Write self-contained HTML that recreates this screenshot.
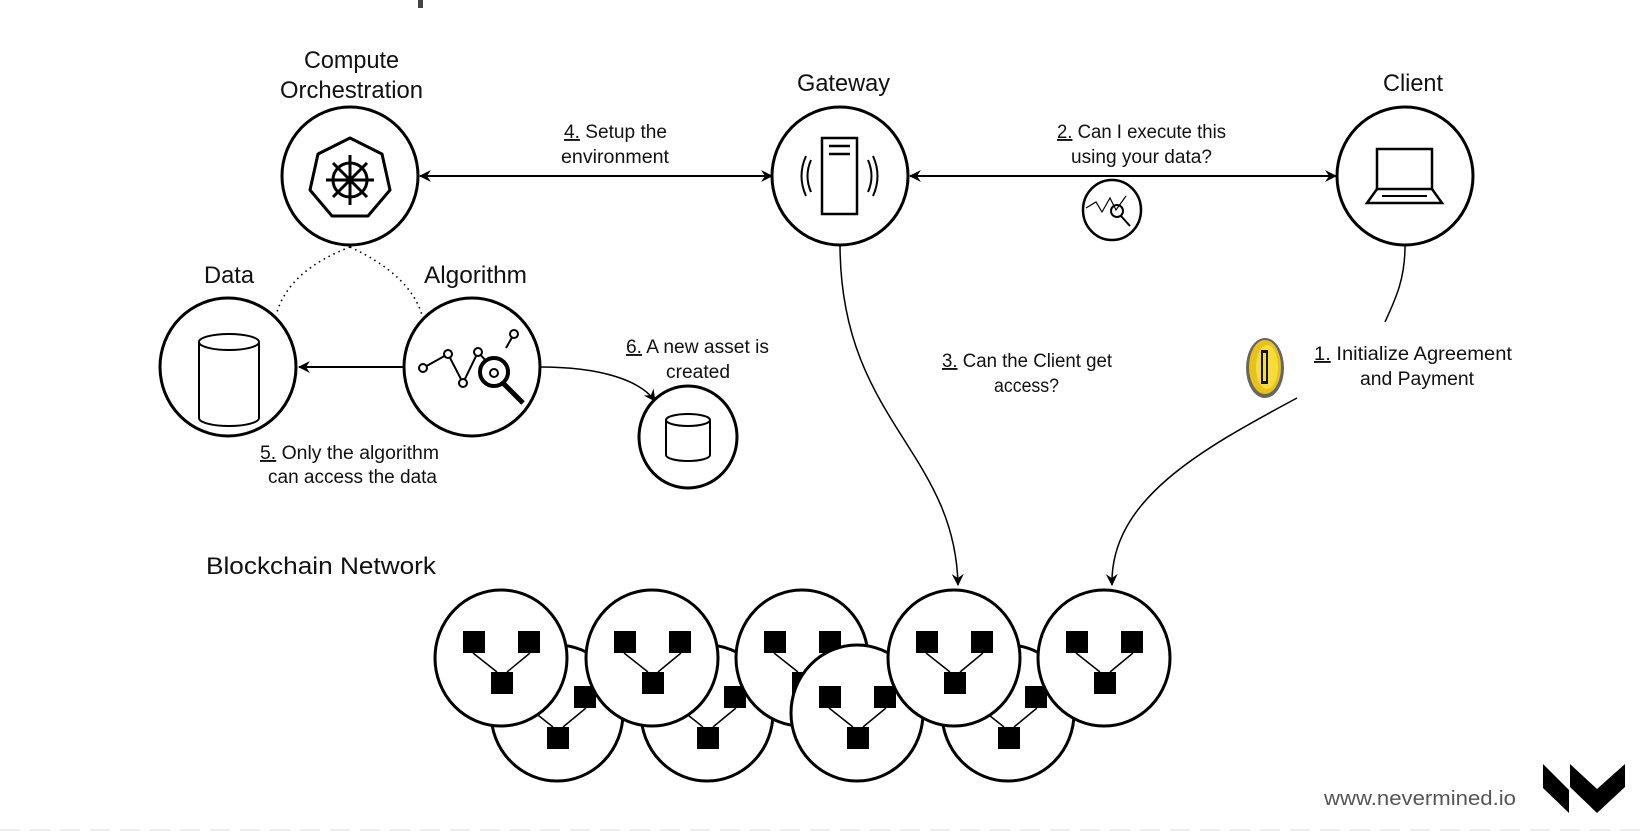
<!DOCTYPE html>
<html><head><meta charset="utf-8"><style>
html,body{margin:0;padding:0;background:#fff;}
svg{display:block;}
text{font-family:"Liberation Sans",sans-serif;fill:#111;}
.h{font-size:24px;}
.l{font-size:19px;}
</style></head><body>
<svg width="1641" height="833" viewBox="0 0 1641 833" xmlns="http://www.w3.org/2000/svg">
<defs>
<marker id="ar" viewBox="0 0 12 12" refX="11" refY="6" markerWidth="12" markerHeight="12" orient="auto-start-reverse" markerUnits="userSpaceOnUse">
<path d="M0,0 L12,6 L0,12 L4,6 z" fill="#000"/>
</marker>
<g id="node">
<ellipse cx="0" cy="0" rx="66" ry="68" fill="#fff" stroke="#000" stroke-width="3"/>
<rect x="-38" y="-27" width="22" height="22" fill="#000"/>
<rect x="17" y="-27" width="22" height="22" fill="#000"/>
<rect x="-10" y="14" width="22" height="22" fill="#000"/>
<path d="M-28,-5 L-4,14 M29,-5 L6,14" stroke="#000" stroke-width="1.5" fill="none"/>
</g>
<g id="db">
<path d="M-30,-38 L-30,38 A30,8 0 0 0 30,38 L30,-38" fill="none" stroke="#000" stroke-width="2"/>
<ellipse cx="0" cy="-38" rx="30" ry="8" fill="none" stroke="#000" stroke-width="2"/>
</g>
</defs>

<rect x="418" y="0" width="5" height="8" fill="#444"/>

<line x1="420" y1="176" x2="772" y2="176" stroke="#000" stroke-width="2" marker-start="url(#ar)" marker-end="url(#ar)"/>
<line x1="910" y1="176" x2="1336" y2="176" stroke="#000" stroke-width="2" marker-start="url(#ar)" marker-end="url(#ar)"/>
<line x1="404" y1="367" x2="299" y2="367" stroke="#000" stroke-width="2" marker-end="url(#ar)"/>
<path d="M540,367 C600,367 640,380 655,401" fill="none" stroke="#000" stroke-width="1.5" marker-end="url(#ar)"/>
<path d="M840,244 C840,420 955,450 958,585" fill="none" stroke="#000" stroke-width="1.5" marker-end="url(#ar)"/>
<path d="M1405,246 C1405,280 1395,300 1385,322" fill="none" stroke="#000" stroke-width="1.5"/>
<path d="M1297,398 C1200,450 1110,500 1112,585" fill="none" stroke="#000" stroke-width="1.5" marker-end="url(#ar)"/>
<path d="M350,247 Q290,270 277,312" fill="none" stroke="#000" stroke-width="1.6" stroke-dasharray="1.5,4"/>
<path d="M350,247 Q410,275 422,315" fill="none" stroke="#000" stroke-width="1.6" stroke-dasharray="1.5,4"/>

<ellipse cx="350" cy="176" rx="68" ry="69" fill="#fff" stroke="#000" stroke-width="3"/>
<path d="M350,138 L382,154 L390,190 L368,216 L332,216 L310,190 L318,154 Z" fill="none" stroke="#000" stroke-width="3" stroke-linejoin="round"/>
<g stroke="#000" stroke-width="3" fill="none">
<circle cx="350" cy="180" r="17"/>
<line x1="350" y1="155" x2="350" y2="205"/>
<line x1="326" y1="180" x2="374" y2="180"/>
<line x1="333" y1="163" x2="367" y2="197"/>
<line x1="367" y1="163" x2="333" y2="197"/>
</g>
<circle cx="350" cy="180" r="4" fill="#000"/>

<ellipse cx="840" cy="176" rx="68" ry="69" fill="#fff" stroke="#000" stroke-width="3"/>
<rect x="822" y="138" width="35" height="76" fill="none" stroke="#000" stroke-width="2.5"/>
<line x1="829" y1="146" x2="850" y2="146" stroke="#000" stroke-width="2.5"/>
<line x1="829" y1="154" x2="850" y2="154" stroke="#000" stroke-width="2.5"/>
<path d="M811,160 Q804,176 811,192 M806,156 Q797,176 806,196 M868,160 Q875,176 868,192 M873,156 Q882,176 873,196" fill="none" stroke="#000" stroke-width="2"/>

<ellipse cx="1405" cy="176" rx="68" ry="69" fill="#fff" stroke="#000" stroke-width="3"/>
<rect x="1377" y="149" width="55" height="40" fill="none" stroke="#000" stroke-width="2.5"/>
<path d="M1377,189 L1367,203 L1442,203 L1432,189" fill="none" stroke="#000" stroke-width="2.5"/>
<line x1="1382" y1="196" x2="1427" y2="196" stroke="#000" stroke-width="2"/>

<ellipse cx="1112" cy="210" rx="29" ry="30" fill="#fff" stroke="#000" stroke-width="2.5"/>
<path d="M1086,208 L1096,202 L1102,212 L1110,198 L1116,210 L1126,196" fill="none" stroke="#000" stroke-width="1.2"/>
<circle cx="1117" cy="211" r="6" fill="none" stroke="#000" stroke-width="2"/>
<line x1="1121" y1="216" x2="1130" y2="226" stroke="#000" stroke-width="2"/>

<ellipse cx="228" cy="367" rx="68" ry="69" fill="#fff" stroke="#000" stroke-width="3"/>
<use href="#db" x="229" y="380"/>

<ellipse cx="472" cy="367" rx="68" ry="69" fill="#fff" stroke="#000" stroke-width="3"/>
<path d="M423,368 L448,354 L463,383 L478,352 L494,370 M506,348 L514,334" fill="none" stroke="#000" stroke-width="2"/>
<g fill="#fff" stroke="#000" stroke-width="2">
<circle cx="423" cy="368" r="4"/><circle cx="448" cy="354" r="4"/><circle cx="463" cy="383" r="4"/><circle cx="478" cy="352" r="4"/><circle cx="514" cy="334" r="4"/>
</g>
<circle cx="494" cy="372" r="14" fill="#fff" stroke="#000" stroke-width="4"/>
<circle cx="494" cy="373" r="4" fill="none" stroke="#000" stroke-width="2"/>
<line x1="503" y1="383" x2="523" y2="403" stroke="#000" stroke-width="5"/>

<ellipse cx="688" cy="437" rx="49" ry="51" fill="#fff" stroke="#000" stroke-width="3"/>
<path d="M666,420 L666,455 A22,6 0 0 0 710,455 L710,420" fill="none" stroke="#000" stroke-width="2"/>
<ellipse cx="688" cy="420" rx="22" ry="6" fill="none" stroke="#000" stroke-width="2"/>

<g>
<ellipse cx="1265" cy="368" rx="19" ry="30" fill="#666"/>
<ellipse cx="1265" cy="367" rx="16" ry="27" fill="#e8c21a"/>
<ellipse cx="1267" cy="367" rx="11" ry="22" fill="#f6dc3a"/>
<rect x="1261" y="350" width="7" height="34" fill="#111"/>
<rect x="1263" y="353" width="3" height="28" fill="#f6dc3a"/>
</g>

<use href="#node" x="557" y="713"/>
<use href="#node" x="707" y="713"/>
<use href="#node" x="1008" y="713"/>
<use href="#node" x="501" y="658"/>
<use href="#node" x="652" y="658"/>
<use href="#node" x="802" y="658"/>
<use href="#node" x="857" y="713"/>
<use href="#node" x="954" y="658"/>
<use href="#node" x="1104" y="658"/>

<text class="h" x="304" y="68" textLength="95" lengthAdjust="spacingAndGlyphs">Compute</text>
<text class="h" x="280" y="98" textLength="143" lengthAdjust="spacingAndGlyphs">Orchestration</text>
<text class="h" x="797" y="91" textLength="93" lengthAdjust="spacingAndGlyphs">Gateway</text>
<text class="h" x="1383" y="91" textLength="60" lengthAdjust="spacingAndGlyphs">Client</text>
<text class="h" x="204" y="283" textLength="50" lengthAdjust="spacingAndGlyphs">Data</text>
<text class="h" x="424" y="283" textLength="103" lengthAdjust="spacingAndGlyphs">Algorithm</text>
<text class="h" x="206" y="574" textLength="230" lengthAdjust="spacingAndGlyphs">Blockchain Network</text>

<text class="l" x="564" y="138" textLength="103" lengthAdjust="spacingAndGlyphs"><tspan text-decoration="underline">4.</tspan> Setup the</text>
<text class="l" x="561" y="163" textLength="108" lengthAdjust="spacingAndGlyphs">environment</text>
<text class="l" x="1057" y="138" textLength="169" lengthAdjust="spacingAndGlyphs"><tspan text-decoration="underline">2.</tspan> Can I execute this</text>
<text class="l" x="1071" y="163" textLength="141" lengthAdjust="spacingAndGlyphs">using your data?</text>
<text class="l" x="942" y="367" textLength="170" lengthAdjust="spacingAndGlyphs"><tspan text-decoration="underline">3.</tspan> Can the Client get</text>
<text class="l" x="994" y="392" textLength="65" lengthAdjust="spacingAndGlyphs">access?</text>
<text class="l" x="1314" y="360" textLength="198" lengthAdjust="spacingAndGlyphs"><tspan text-decoration="underline">1.</tspan> Initialize Agreement</text>
<text class="l" x="1360" y="385" textLength="114" lengthAdjust="spacingAndGlyphs">and Payment</text>
<text class="l" x="626" y="353" textLength="143" lengthAdjust="spacingAndGlyphs"><tspan text-decoration="underline">6.</tspan> A new asset is</text>
<text class="l" x="666" y="378" textLength="64" lengthAdjust="spacingAndGlyphs">created</text>
<text class="l" x="260" y="459" textLength="179" lengthAdjust="spacingAndGlyphs"><tspan text-decoration="underline">5.</tspan> Only the algorithm</text>
<text class="l" x="268" y="483" textLength="169" lengthAdjust="spacingAndGlyphs">can access the data</text>

<text x="1324" y="805" style="font-size:20px;fill:#555" textLength="192" lengthAdjust="spacingAndGlyphs">www.nevermined.io</text>
<path d="M1543,764 L1569,790 L1569,813 L1543,788 Z" fill="#000"/>
<path d="M1570,764 L1597,789 L1625,764 L1625,787 L1597,813 L1570,787 Z" fill="#000"/>
<line x1="0" y1="830" x2="1641" y2="830" stroke="#eee" stroke-width="2" stroke-dasharray="20,10"/>
</svg>
</body></html>
